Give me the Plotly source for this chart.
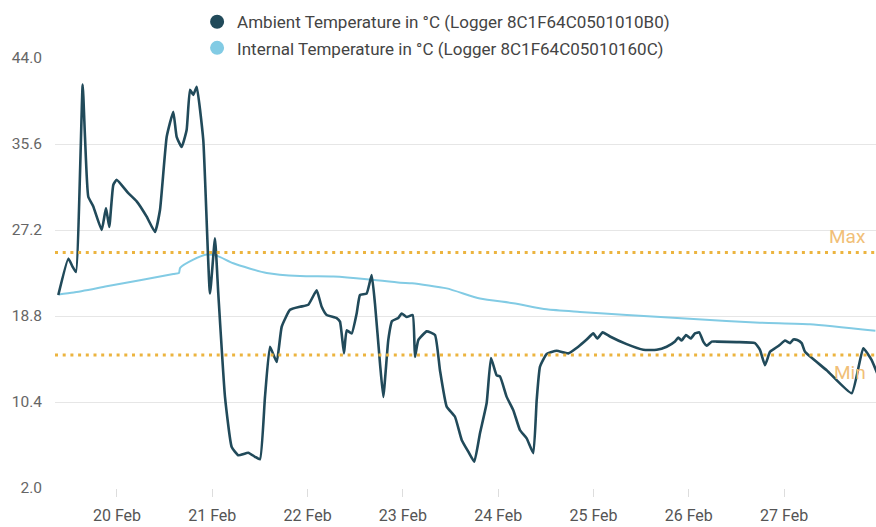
import pandas as pd
import plotly.graph_objects as go

BASE = pd.Timestamp("2024-02-20 00:00")

# Ambient temperature: hours relative to 20 Feb 00:00, and °C
ambient_hours = [-14.78, -12.26, -11.16, -10.33, -8.64, -8.06, -7.23, -5.97, -3.85, -2.77,
                 -1.94, -0.93, -0.08, 2.85, 4.96, 7.48, 9.57, 10.83, 12.52, 14.18,
                 15.03, 16.29, 17.55, 18.38, 19.22, 20.07, 21.73, 23.42, 24.68, 25.51,
                 27.2, 28.89, 30.55, 33.07, 34.75, 36.01, 37.27, 38.53, 40.22, 41.48,
                 43.57, 46.09, 48.18, 50.29, 51.55, 52.81, 55.33, 56.16, 57.17, 57.85,
                 59.11, 60.36, 61.2, 62.88, 64.14, 64.97, 66.23, 67.07, 68.32, 69.26,
                 70.84, 71.7, 72.96, 74.47, 75.05, 75.88, 78.0, 80.09, 81.34, 83.03,
                 85.12, 86.81, 88.47, 89.98, 91.42, 93.1, 94.19, 95.62, 96.45, 98.14,
                 99.81, 101.49, 103.18, 104.84, 105.7, 106.53, 108.21, 110.73, 113.66, 116.17,
                 118.29, 119.95, 120.96, 122.32, 124.16, 128.36, 132.54, 135.92, 138.43, 140.53,
                 141.36, 142.21, 143.3, 144.48, 145.56, 146.64, 147.65, 148.51, 149.77, 151.03,
                 156.06, 160.67, 161.93, 163.19, 164.45, 165.71, 166.97, 168.23, 169.49, 170.32,
                 171.33, 172.43, 173.27, 178.73, 185.03, 187.94, 190.06, 191.65]
ambient_temp = [20.85, 24.4, 23.6, 23.1, 41.4, 36.3, 30.45, 29.5, 27.2, 29.35,
                27.5, 31.6, 32.1, 30.8, 30.0, 28.5, 27.0, 29.15, 36.3, 38.75,
                36.3, 35.3, 37.0, 40.9, 40.4, 41.2, 36.0, 21.0, 26.4, 21.0,
                10.9, 6.0, 5.2, 5.45, 5.05, 4.8, 10.9, 15.8, 14.3, 17.75,
                19.4, 19.7, 19.9, 21.3, 19.7, 18.9, 18.6, 18.25, 15.15, 17.4,
                17.1, 19.05, 20.85, 21.0, 22.8, 20.0, 14.2, 10.9, 16.45, 18.3,
                18.6, 19.05, 18.7, 18.9, 14.8, 16.45, 17.3, 16.95, 13.5, 9.95,
                8.96, 6.7, 5.55, 4.57, 7.35, 10.3, 14.7, 13.0, 12.9, 10.9,
                9.6, 7.65, 6.85, 5.4, 10.6, 13.85, 15.1, 15.4, 15.15, 15.8,
                16.5, 17.1, 16.6, 17.2, 16.8, 16.05, 15.5, 15.5, 15.8, 16.3,
                16.7, 16.4, 16.95, 16.6, 17.1, 17.2, 16.3, 15.9, 16.3, 16.3,
                16.25, 16.15, 15.5, 14.0, 15.3, 15.65, 16.0, 16.4, 16.15, 16.5,
                16.45, 16.15, 15.3, 13.5, 11.25, 15.65, 14.5, 13.0]

# Internal temperature
internal_hours = [-14.78, -10.9, -2.6, 5.79, 14.18, 15.6, 15.9, 19.22, 22.59, 25.1,
                  29.3, 37.7, 46.1, 54.5, 62.9, 71.3, 74.3, 83.03, 91.42, 99.81,
                  108.2, 116.6, 128.4, 145.2, 161.9, 174.5, 191.0]
internal_temp = [20.9, 21.1, 21.7, 22.3, 22.9, 23.0, 23.5, 24.3, 24.8, 24.7,
                 23.95, 23.0, 22.7, 22.65, 22.4, 22.05, 22.0, 21.5, 20.5, 20.05,
                 19.45, 19.2, 18.9, 18.5, 18.15, 18.0, 17.35]

threshold_max = 25.0
threshold_min = 15.0

y_ticks = [2.0, 10.4, 18.8, 27.2, 35.6, 44.0]
x_tick_days = ["2024-02-20", "2024-02-21", "2024-02-22", "2024-02-23",
               "2024-02-24", "2024-02-25", "2024-02-26", "2024-02-27"]
x_tick_labels = ["20 Feb", "21 Feb", "22 Feb", "23 Feb", "24 Feb", "25 Feb", "26 Feb", "27 Feb"]
x_range_hours = [-15.61, 191.15]

series_names = ["Ambient Temperature in °C (Logger 8C1F64C0501010B0)",
                "Internal Temperature in °C (Logger 8C1F64C05010160C)"]
AMB = "#214a5a"
INT = "#82cbe4"
ORANGE = "#ecb43f"
FONT = "Roboto"


def to_time(hours):
    return [BASE + pd.Timedelta(hours=h) for h in hours]


fig = go.Figure()
fig.add_trace(go.Scatter(x=to_time(internal_hours), y=internal_temp, mode="lines",
                         line=dict(color=INT, width=2, shape="spline", smoothing=0.6),
                         showlegend=False, hoverinfo="skip"))
fig.add_trace(go.Scatter(x=to_time(ambient_hours), y=ambient_temp, mode="lines",
                         line=dict(color=AMB, width=2.6, shape="spline", smoothing=0.4),
                         showlegend=False, hoverinfo="skip"))
# legend entries (circle markers)
fig.add_trace(go.Scatter(x=[None], y=[None], mode="markers", name=series_names[0],
                         marker=dict(color=AMB, size=14), legendgroup="a"))
fig.add_trace(go.Scatter(x=[None], y=[None], mode="markers", name=series_names[1],
                         marker=dict(color=INT, size=14), legendgroup="b"))

for val in (threshold_max, threshold_min):
    fig.add_shape(type="line", xref="paper", x0=0, x1=1, yref="y", y0=val, y1=val,
                  line=dict(color=ORANGE, width=3, dash="3px,4.7px"), layer="above")

fig.add_annotation(xref="paper", x=1, xanchor="right", xshift=-8, yref="y", y=threshold_max,
                   yanchor="bottom", yshift=3, text="Max", showarrow=False,
                   font=dict(family=FONT, size=19, color="#f1bf78"))
fig.add_annotation(xref="paper", x=1, xanchor="right", xshift=-8, yref="y", y=threshold_min,
                   yanchor="top", yshift=-4, text="Min", showarrow=False,
                   font=dict(family=FONT, size=19, color="#f1bf78"))

fig.update_layout(
    width=876, height=527, autosize=False,
    margin=dict(l=55, r=0, t=58, b=39, autoexpand=False),
    paper_bgcolor="white", plot_bgcolor="white",
    font=dict(family=FONT, color="#5a5a5a"),
    legend=dict(orientation="v", xref="container", yref="container", x=0.225, y=0.992,
                xanchor="left", yanchor="top", font=dict(size=17, color="#444444"),
                traceorder="grouped", tracegroupgap=1, bgcolor="rgba(0,0,0,0)"),
    xaxis=dict(type="date", range=to_time(x_range_hours), tickvals=x_tick_days,
               ticktext=x_tick_labels, tickangle=0, automargin=False,
               showgrid=False, zeroline=False, showline=False,
               ticks="outside", ticklen=8, tickcolor="#dddddd", tickwidth=1,
               tickfont=dict(size=16, color="#555555"), ticklabelstandoff=5),
    yaxis=dict(range=[2, 44], tickvals=y_ticks, ticktext=[f"{v:.1f}" for v in y_ticks],
               automargin=False,
               showgrid=True, gridcolor="#e6e6e6", gridwidth=1, zeroline=False,
               showline=False, tickfont=dict(size=15.5, color="#666666"), ticklabelstandoff=12),
)

fig.write_html("out.html", config={"displayModeBar": False},
               post_script="document.body.style.margin='0';")
